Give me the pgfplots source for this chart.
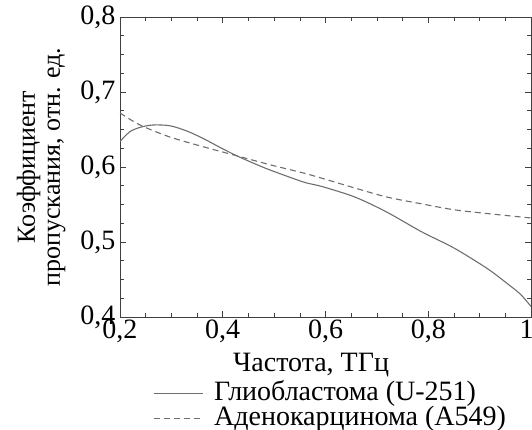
\documentclass[border=0pt]{standalone}
\usepackage{fontspec}
\setmainfont{Liberation Serif}
\usepackage{pgfplots}
\pgfplotsset{compat=1.18}
\definecolor{lineg}{HTML}{6E6E6E}
\definecolor{axisg}{HTML}{404040}
\begin{document}
\begin{tikzpicture}
\begin{axis}[
  scale only axis, width=411pt, height=300pt,
  at={(0,0)}, anchor=south west,
  xmin=0.2, xmax=1, ymin=0.4, ymax=0.8,
  xtick={0.2,0.4,0.6,0.8,1},
  xticklabels={{0,2},{0,4},{0,6},{0,8},{\hspace*{-9pt}1}},
  ytick={0.4,0.5,0.6,0.7,0.8},
  yticklabels={{0,4},{0,5},{0,6},{0,7},{0,8}},
  minor x tick num=3, minor y tick num=3,
  tick align=inside, major tick length=6pt, minor tick length=4pt,
  every tick/.style={axisg, line width=0.6pt},
  axis line style={axisg, line width=0.9pt},
  ticklabel style={font=\fontsize{28}{28}\selectfont},
  xticklabel style={yshift=1pt},
  yticklabel style={xshift=-1pt},
  label style={font=\fontsize{26}{25}\selectfont},
  xlabel={Частота, ТГц},
  xlabel style={font=\fontsize{28}{28}\selectfont, at={(axis description cs:0.465,-0.183)}, anchor=base},
  ylabel={Коэффициент\\пропускания, отн. ед.},
  ylabel style={align=center, at={(axis description cs:-0.192,0.5)}, anchor=center},
  legend style={draw=none, fill=none, at={(axis description cs:0.08,-0.213)}, anchor=north west,
    font=\fontsize{28}{28}\selectfont, inner sep=0pt, row sep=0pt,
    nodes={inner sep=0pt, text height=19pt, text depth=6pt}},
  legend cell align=left,
  legend image code/.code={\draw[#1] (0pt,0pt) -- (49pt,0pt); \path (60pt,0pt);},
]
\addplot[lineg, line width=1.1pt, smooth] coordinates {
(0.200,0.634) (0.219,0.647) (0.240,0.653) (0.264,0.656) (0.297,0.655)
(0.330,0.648) (0.362,0.638) (0.395,0.626) (0.427,0.615) (0.460,0.605)
(0.492,0.596) (0.557,0.580) (0.593,0.574) (0.657,0.560) (0.719,0.540)
(0.786,0.514) (0.850,0.492) (0.914,0.465) (0.953,0.445) (0.980,0.430)
(1.000,0.414)};
\addlegendentry{Глиобластома (U-251)}
\addplot[lineg, line width=1.1pt, dash pattern=on 6pt off 4pt, smooth] coordinates {
(0.200,0.672) (0.239,0.656) (0.297,0.640) (0.362,0.627) (0.427,0.615)
(0.492,0.603) (0.557,0.592) (0.593,0.585) (0.657,0.572) (0.719,0.560)
(0.786,0.551) (0.850,0.543) (0.914,0.538) (1.000,0.532)};
\addlegendentry{Аденокарцинома (A549)}
\end{axis}
\pgfresetboundingbox
\path (-120pt,-113pt) rectangle (412pt,317pt);
\end{tikzpicture}
\end{document}
